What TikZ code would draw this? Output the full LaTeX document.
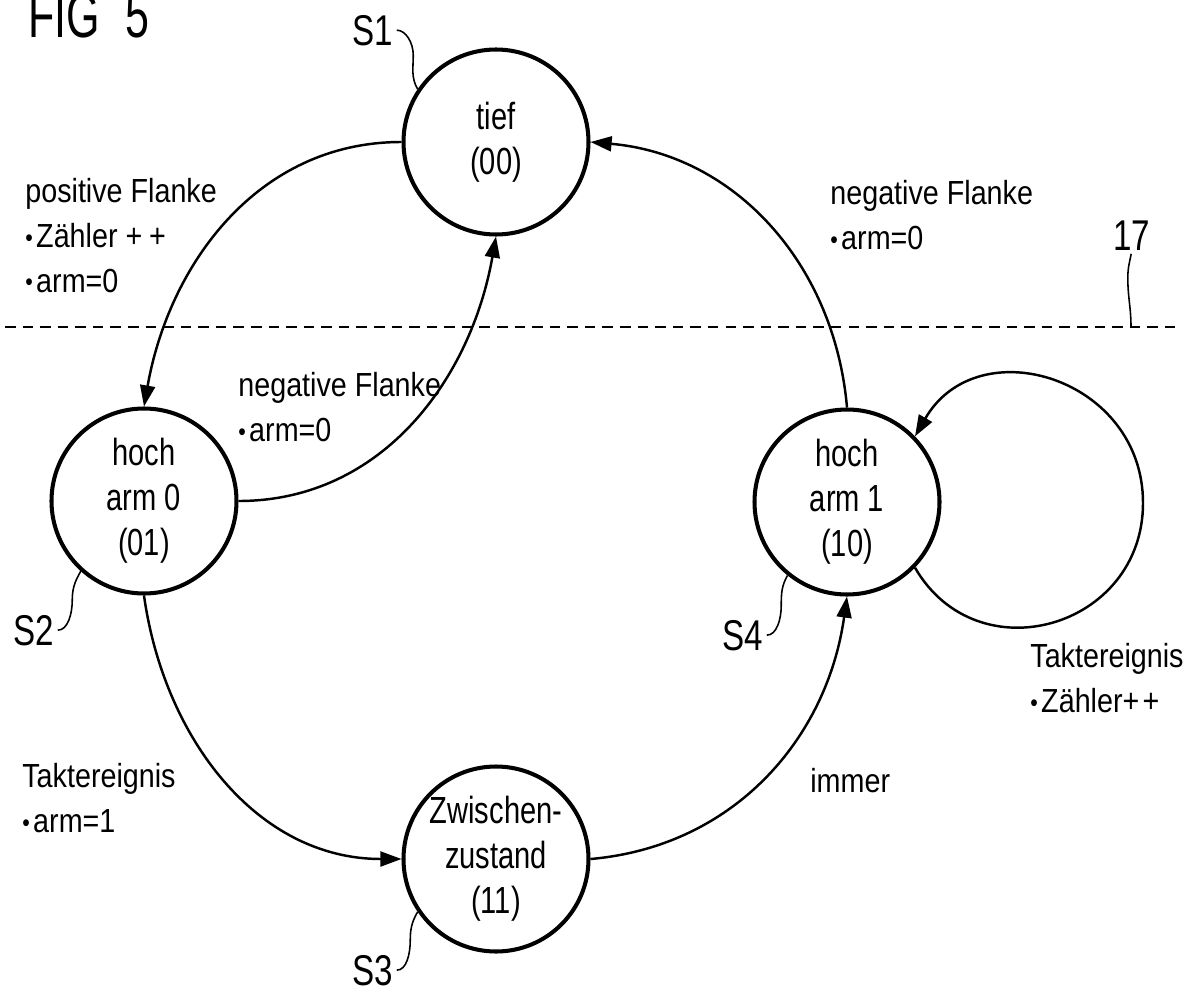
\documentclass[tikz,border=0pt]{standalone}
\usepackage{fontspec}
\setmainfont{Liberation Sans}[FakeStretch=0.86]
\newfontfamily\statefont{Liberation Sans}[FakeStretch=0.77]
\newfontfamily\figfont{Liberation Sans}[FakeStretch=0.68]
\usetikzlibrary{arrows.meta}
\newcommand{\pkt}{\raisebox{0.04em}{\scalebox{0.75}{•}}\hspace{0.1em}}

\begin{document}
\begin{tikzpicture}[>={Triangle[length=12pt,width=8.5pt]},
    zustand/.style={circle,draw,line width=2.3pt,minimum size=3.7cm,inner sep=0pt,align=center,font=\statefont\fontsize{21.5}{25.5}\selectfont},
    kante/.style={->,line width=1.4pt},
    beschr/.style={inner sep=0pt,align=left,anchor=north west,font=\fontsize{19}{25.5}\selectfont},
    bezug/.style={inner sep=0pt,anchor=base west,font=\statefont\fontsize{24.5}{28}\selectfont},
    fuehrung/.style={line width=0.9pt,shorten <=2pt}]
  \useasboundingbox (0,0) rectangle (24.02,-19.86);
  % Zustaende
  \node[zustand] (s1) at (9.92,-2.84) {tief\\(00)};
  \node[zustand] (s2) at (2.88,-10.02) {hoch\\arm 0\\(01)};
  \node[zustand] (s3) at (9.92,-17.18) {Zwischen-\\zustand\\(11)};
  \node[zustand] (s4) at (16.94,-10.04) {hoch\\arm 1\\(10)};
  % Uebergaenge
  \draw[kante] (s1.west) to[out=180,in=80] (s2.north);
  \draw[kante] (s2.east) to[out=0,in=-100] (s1.south);
  \draw[kante] (s2.south) to[out=-82,in=180] (s3.west);
  \draw[kante] (s3.east) to[out=5,in=-98] (s4.south);
  \draw[kante] (s4.north) to[out=95,in=-5] (s1.east);
  \coordinate (schleife) at (22.86,-10.06);
  \draw[kante] (s4.-44) to[out=-60,in=-90,looseness=1.35] (schleife)
    to[out=90,in=60,looseness=1.35] (s4.44);
  % Beschriftungen
  \node[beschr] (t1) at (0.5,-3.56) {positive Flanke\\\pkt Zähler +\hspace{0.2em}+\\\pkt arm=0};
  \node[beschr] (t2) at (4.76,-7.44) {negative Flanke\\\pkt arm=0};
  \node[beschr] (t3) at (16.6,-3.6) {negative Flanke\\\pkt arm=0};
  \node[beschr] (t4) at (0.44,-15.26) {Taktereignis\\\pkt arm=1};
  \node[beschr,anchor=base west] (t5) at (16.2,-15.84) {immer};
  \node[beschr] (t6) at (20.6,-12.86) {Taktereignis\\\pkt Zähler+\hspace{0.1em}+};
  % Trennlinie 17
  \coordinate (dl) at (0.1,-6.54);
  \coordinate (dr) at (23.5,-6.54);
  \draw[line width=1.6pt,dash pattern=on 6pt off 4pt] (dl) -- (dr);
  % Bezugszeichen
  \node[bezug,font=\figfont\fontsize{36}{40}\selectfont] (fig) at (0.56,-0.76) {FIG\hspace{0.4em}5};
  \node[bezug] (l1) at (7.04,-0.9) {S1};
  \node[bezug] (l2) at (0.26,-12.9) {S2};
  \node[bezug] (l3) at (7.04,-19.7) {S3};
  \node[bezug] (l4) at (14.44,-13.0) {S4};
  \node[bezug] (l17) at (22.26,-5.0) {17};
  \coordinate (m17) at (22.62,-6.54);
  \draw[fuehrung] (l1.east) to[out=0,in=90] ++(0.4,-0.5) to[out=-90,in=120] (s1.146);
  \draw[fuehrung] (l2.east) to[out=0,in=-90] ++(0.36,0.6) to[out=90,in=-120] (s2.228);
  \draw[fuehrung] (l3.east) to[out=0,in=-90] ++(0.34,0.6) to[out=90,in=-120] (s3.214);
  \draw[fuehrung] (l4.east) to[out=0,in=-90] ++(0.36,0.6) to[out=90,in=-120] (s4.231);
  \draw[fuehrung] (l17.south) to[out=-100,in=90] ++(-0.08,-0.55) to[out=-90,in=90] (m17);
\end{tikzpicture}
\end{document}
